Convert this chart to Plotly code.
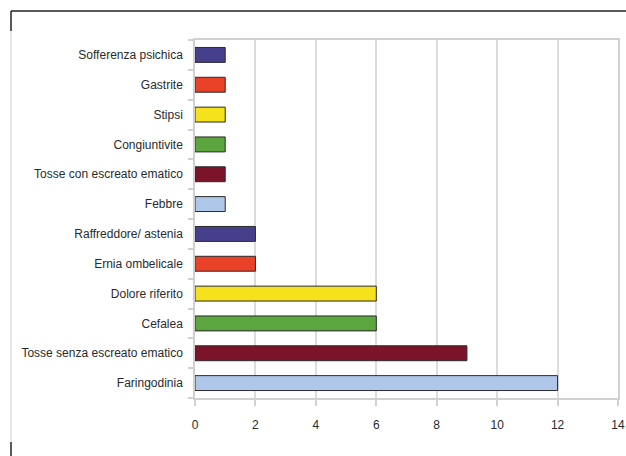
import plotly.graph_objects as go

categories = ["Faringodinia", "Tosse senza escreato ematico", "Cefalea", "Dolore riferito",
              "Ernia ombelicale", "Raffreddore/ astenia", "Febbre", "Tosse con escreato ematico",
              "Congiuntivite", "Stipsi", "Gastrite", "Sofferenza psichica"]
values = [12, 9, 6, 6, 2, 2, 1, 1, 1, 1, 1, 1]
colors = ["#afc7e8", "#7b1428", "#5ca640", "#f5e11c", "#ea4229", "#463f8c",
          "#afc7e8", "#7b1428", "#5ca640", "#f5e11c", "#ea4229", "#463f8c"]
x_ticks = [0, 2, 4, 6, 8, 10, 12, 14]

W, H = 626, 456
L, R, T, B = 195, 8, 40, 58

fig = go.Figure(go.Bar(
    y=categories, x=values, orientation="h",
    marker=dict(color=colors, line=dict(color="#2a2a2a", width=1)),
    hoverinfo="x+y",
))

font = dict(family="Liberation Sans Narrow, Arial Narrow, Liberation Sans, sans-serif", size=12, color="#2a2a2a")

def px(xp):
    return (xp - L) / (W - L - R)

def py(yp):
    return (H - B - yp) / (H - T - B)

fig.update_layout(
    width=W, height=H,
    margin=dict(l=L, r=R, t=T, b=B, pad=0),
    paper_bgcolor="white", plot_bgcolor="white",
    bargap=0.5, showlegend=False, font=font,
    xaxis=dict(range=[0, 14], tickvals=x_ticks, showgrid=True, gridcolor="#dcdcdc", gridwidth=1.5,
               zeroline=False, showline=True, linecolor="#d0d0d0", linewidth=1.5,
               ticks="outside", ticklen=6, tickcolor="#d0d0d0", tickwidth=1.5,
               mirror=True, ticklabelstandoff=9, automargin=False),
    yaxis=dict(type="category", categoryorder="array", categoryarray=categories,
               showgrid=False, showline=True, linecolor="#d0d0d0", linewidth=1.5,
               ticks="outside", tickson="boundaries", ticklen=5, tickcolor="#d0d0d0", tickwidth=1.5,
               mirror=True, ticklabelstandoff=8, automargin=False),
    shapes=[
        dict(type="line", xref="paper", yref="paper", x0=px(11), x1=px(W), y0=py(11), y1=py(11),
             line=dict(color="#222222", width=1.5)),
        dict(type="line", xref="paper", yref="paper", x0=px(11), x1=px(11), y0=py(11), y1=py(31),
             line=dict(color="#222222", width=1.5)),
        dict(type="line", xref="paper", yref="paper", x0=px(11), x1=px(11), y0=py(31), y1=py(442),
             line=dict(color="#cfcfcf", width=1)),
        dict(type="line", xref="paper", yref="paper", x0=px(11), x1=px(11), y0=py(442), y1=py(456),
             line=dict(color="#222222", width=1.5)),
    ],
)

fig.write_html("out.html")
